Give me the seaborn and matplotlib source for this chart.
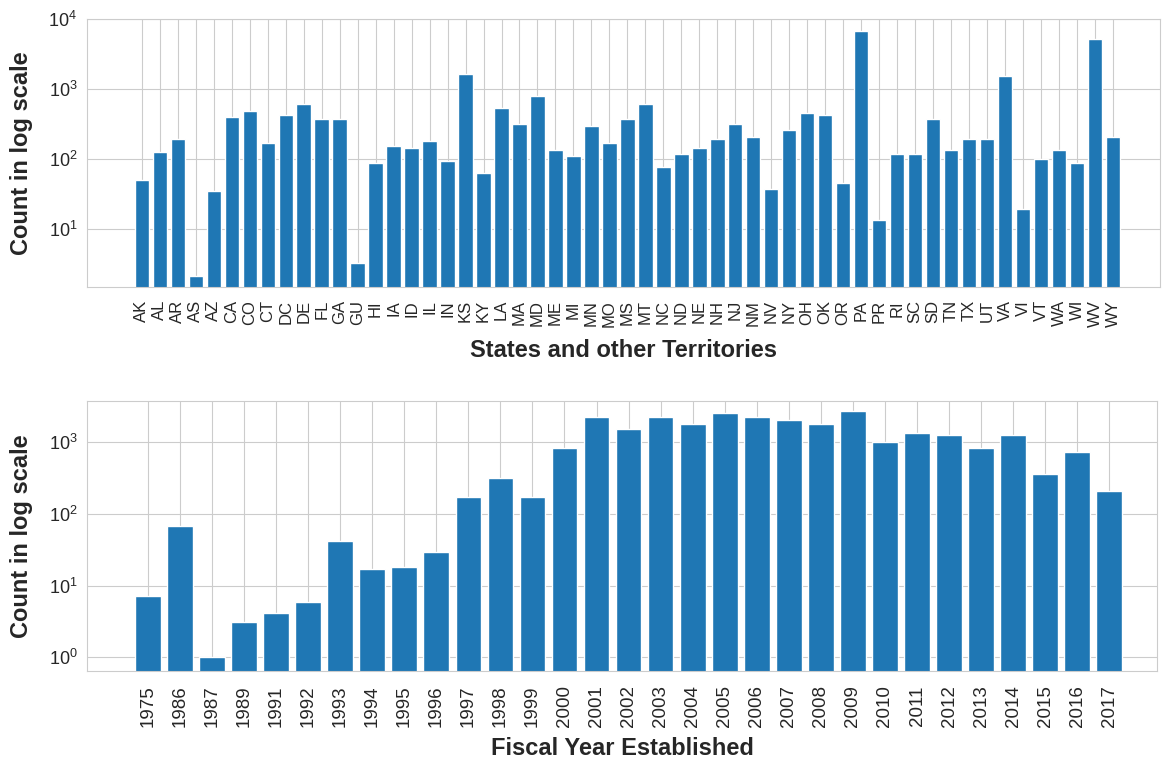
import matplotlib
matplotlib.use("Agg")
import matplotlib.pyplot as plt
import seaborn as sns

# values
states = ['AK', 'AL', 'AR', 'AS', 'AZ', 'CA', 'CO', 'CT', 'DC', 'DE', 'FL', 'GA', 'GU', 'HI',
          'IA', 'ID', 'IL', 'IN', 'KS', 'KY', 'LA', 'MA', 'MD', 'ME', 'MI', 'MN', 'MO', 'MS',
          'MT', 'NC', 'ND', 'NE', 'NH', 'NJ', 'NM', 'NV', 'NY', 'OH', 'OK', 'OR', 'PA', 'PR',
          'RI', 'SC', 'SD', 'TN', 'TX', 'UT', 'VA', 'VI', 'VT', 'WA', 'WI', 'WV', 'WY']
state_counts = [50, 126, 191, 2.1, 35, 394, 490, 167, 425, 604, 369, 369, 3.3, 87,
                155, 145, 179, 95, 1637, 62, 529, 316, 803, 134, 109, 299, 167, 369,
                604, 76, 117, 145, 193, 316, 208, 37, 257, 449, 421, 46, 6800, 13.4,
                117, 117, 369, 134, 191, 191, 1517, 19.5, 101, 134, 87, 5176, 208]

years = ['1975', '1986', '1987', '1989', '1991', '1992', '1993', '1994', '1995', '1996',
         '1997', '1998', '1999', '2000', '2001', '2002', '2003', '2004', '2005', '2006',
         '2007', '2008', '2009', '2010', '2011', '2012', '2013', '2014', '2015', '2016', '2017']
year_counts = [7.2, 68, 1.0, 3.1, 4.2, 5.9, 42, 17, 18, 29.5,
               171, 318, 171, 834, 2233, 1550, 2233, 1800, 2540, 2233,
               2050, 1800, 2735, 1020, 1350, 1280, 825, 1280, 357, 724, 207]

sns.set_style("whitegrid")
plt.rcParams['font.family'] = ['Liberation Sans', 'DejaVu Sans']
plt.rcParams['mathtext.fontset'] = 'custom'
plt.rcParams['mathtext.rm'] = 'Liberation Sans'

bar_color = '#1f77b4'

fig = plt.figure(figsize=(11.66, 7.65), dpi=100)
ax1 = fig.add_axes([0.0746, 0.625, 0.92, 0.35])
ax2 = fig.add_axes([0.0746, 0.123, 0.918, 0.353])

# top: states
sns.barplot(x=states, y=state_counts, color=bar_color, saturation=1, width=0.8, ax=ax1)
ax1.set_yscale('log')
ax1.set_ylim(1.48, 1e4)
ax1.set_xlim(-3.05, 56.6)
ax1.set_xlabel('States and other Territories', fontsize=17, fontweight='bold', labelpad=9)
ax1.tick_params(axis='x', labelrotation=90, labelsize=12, pad=6)

# bottom: fiscal years
sns.barplot(x=years, y=year_counts, color=bar_color, saturation=1, width=0.8, ax=ax2)
ax2.set_yscale('log')
ax2.set_ylim(0.645, 3775)
ax2.set_xlim(-1.9, 31.5)
ax2.set_xlabel('Fiscal Year Established', fontsize=17, fontweight='bold', labelpad=7)
ax2.tick_params(axis='x', labelrotation=90, labelsize=13.5, pad=7)

for ax in (ax1, ax2):
    ax.set_ylabel('Count in log scale', fontsize=17, fontweight='bold')
    ax.tick_params(axis='y', labelsize=13)
    ax.yaxis.set_label_coords(-0.05, 0.5)
    ax.xaxis.grid(True)
    ax.set_axisbelow(True)

plt.savefig('out.png', dpi=100)
plt.close()
